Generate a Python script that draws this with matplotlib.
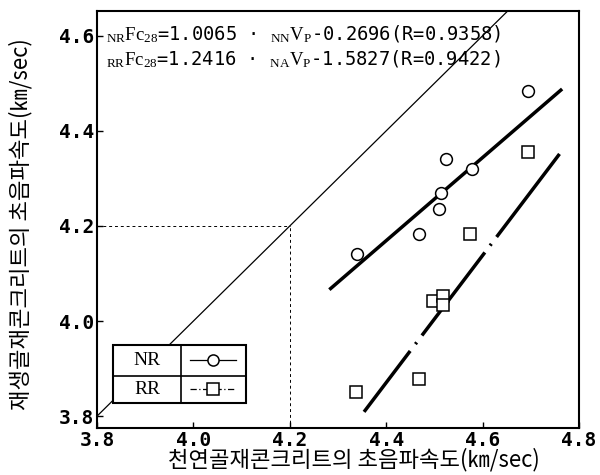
import matplotlib
matplotlib.use('Agg')
import matplotlib.pyplot as plt
from matplotlib.lines import Line2D
from matplotlib.patches import Rectangle

plt.rcParams['mathtext.fontset'] = 'custom'
plt.rcParams['mathtext.rm'] = 'Liberation Serif'
plt.rcParams['mathtext.it'] = 'Liberation Serif:italic'

# ── Données ──────────────────────────────────────────────────
nr_x = [4.694, 4.524, 4.577, 4.514, 4.509, 4.468, 4.339]
nr_y = [4.484, 4.341, 4.320, 4.270, 4.235, 4.183, 4.142]
rr_x = [4.695, 4.573, 4.498, 4.518, 4.518, 4.469, 4.338]
rr_y = [4.355, 4.183, 4.042, 4.052, 4.033, 3.878, 3.851]

nr_fit_x = [4.282, 4.765]
nr_fit_y = [4.066, 4.488]
rr_fit_x = [4.354, 4.769]
rr_fit_y = [3.809, 4.364]

ref_xy = [3.70, 4.80]          # droite y = x
guide_v = 4.2                  # repère 4.2 / 4.2

x_ticks = [3.8, 4.0, 4.2, 4.4, 4.6, 4.8]
y_ticks = [3.8, 4.0, 4.2, 4.4, 4.6]

eq_nr = r'${}_{\mathrm{NR}}\mathrm{Fc}_{28}$=1.0065 · ${}_{\mathrm{NN}}\mathrm{V}_{\mathrm{P}}$-0.2696(R=0.9358)'
eq_rr = r'${}_{\mathrm{RR}}\mathrm{Fc}_{28}$=1.2416 · ${}_{\mathrm{NA}}\mathrm{V}_{\mathrm{P}}$-1.5827(R=0.9422)'
x_label = '천연골재콘크리트의 초음파속도(㎞/sec)'
y_label = '재생골재콘크리트의 초음파속도(㎞/sec)'
legend_names = ['NR', 'RR']

# ── Figure ───────────────────────────────────────────────────
fig = plt.figure(figsize=(6, 4.75), dpi=100)
ax = fig.add_axes([0.1617, 0.0989, 0.8033, 0.8779])

ax.plot(ref_xy, ref_xy, color='black', linewidth=0.9, zorder=1)
ax.plot([x_ticks[0], guide_v], [guide_v, guide_v], color='black',
        linewidth=0.7, linestyle=(0, (3, 3)), zorder=1)
ax.plot([guide_v, guide_v], [3.70, guide_v], color='black',
        linewidth=0.7, linestyle=(0, (3, 3)), zorder=1)

ax.plot(nr_fit_x, nr_fit_y, color='black', linewidth=2.5,
        solid_capstyle='butt', zorder=2)
ax.plot(rr_fit_x, rr_fit_y, color='black', linewidth=2.5,
        linestyle=(8, (30, 2.5, 0.6, 2.5)), dash_capstyle='butt', zorder=2)

ax.plot(nr_x, nr_y, linestyle='none', marker='o', markersize=8.5,
        markerfacecolor='white', markeredgecolor='black',
        markeredgewidth=1.1, zorder=3)
ax.plot(rr_x, rr_y, linestyle='none', marker='s', markersize=8.5,
        markerfacecolor='white', markeredgecolor='black',
        markeredgewidth=1.1, zorder=3)

ax.set_xlim(3.8, 4.785)
ax.set_ylim(3.775, 4.652)
ax.set_xticks(x_ticks)
ax.set_yticks(y_ticks)
ax.set_xticklabels([f'{v:.1f}' for v in x_ticks],
                   family='DejaVu Sans Mono', fontsize=14, fontweight='bold')
ax.set_yticklabels([f'{v:.1f}' for v in y_ticks],
                   family='DejaVu Sans Mono', fontsize=14, fontweight='bold')
ax.tick_params(direction='in', length=4, width=1, pad=2)
for sp in ax.spines.values():
    sp.set_linewidth(1.5)

ax.set_xlabel(x_label, family='Noto Sans CJK KR', fontsize=16)
ax.set_ylabel(y_label, family='Noto Sans CJK KR', fontsize=16)
ax.xaxis.set_label_coords(0.533, -0.048)
ax.yaxis.set_label_coords(-0.135, 0.49)

# équations
ax.text(0.018, 0.945, eq_nr, transform=ax.transAxes, fontsize=13.5,
        family='DejaVu Sans Mono', va='center', ha='left')
ax.text(0.018, 0.885, eq_rr, transform=ax.transAxes, fontsize=13.5,
        family='DejaVu Sans Mono', va='center', ha='left')

# ── Légende en tableau ───────────────────────────────────────
bx0, bx1, bdiv = 0.033, 0.309, 0.174
by0, by1, bmid = 0.060, 0.199, 0.125
ax.add_patch(Rectangle((bx0, by0), bx1 - bx0, by1 - by0, transform=ax.transAxes,
                       facecolor='white', edgecolor='black', linewidth=1.5,
                       zorder=4))
ax.add_line(Line2D([bx0, bx1], [bmid, bmid], transform=ax.transAxes,
                   color='black', linewidth=1.2, zorder=5))
ax.add_line(Line2D([bdiv, bdiv], [by0, by1], transform=ax.transAxes,
                   color='black', linewidth=1.2, zorder=5))
rows_y = [(by1 + bmid) / 2, (bmid + by0) / 2]
styles = [('-', 'o'), ((0, (5, 2, 1, 2)), 's')]
for name, ry, (ls, mk) in zip(legend_names, rows_y, styles):
    ax.text((bx0 + bdiv) / 2, ry, name, transform=ax.transAxes,
            family='Liberation Serif', fontsize=14, ha='center', va='center',
            zorder=6)
    ax.add_line(Line2D([0.193, 0.289], [ry, ry], transform=ax.transAxes,
                       color='black', linewidth=0.9, linestyle=ls, zorder=6))
    ax.add_line(Line2D([0.241], [ry], transform=ax.transAxes, marker=mk,
                       markersize=8, markerfacecolor='white',
                       markeredgecolor='black', markeredgewidth=1.1,
                       linestyle='none', zorder=7))

fig.savefig('out.png', dpi=100)
plt.close(fig)
